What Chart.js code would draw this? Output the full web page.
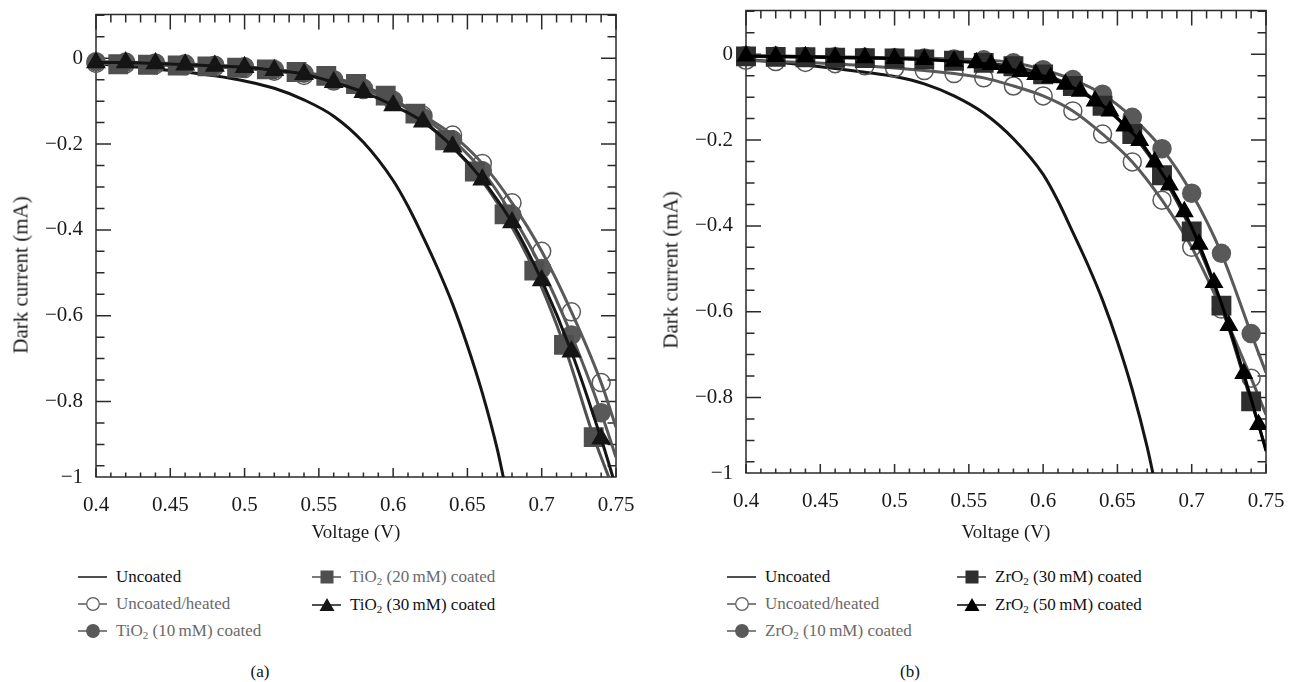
<!DOCTYPE html>
<html>
<head>
<meta charset="utf-8">
<script src="https://cdn.jsdelivr.net/npm/chart.js@4.4.1/dist/chart.umd.min.js"></script>
<style>
  html, body { margin: 0; padding: 0; background: #fff; }
  #page { position: relative; width: 1291px; height: 682px; overflow: hidden;
          font-family: "Liberation Serif", "Times New Roman", serif; color: #111; }
  canvas { position: absolute; }
  .leg { position: absolute; display: flex; align-items: center; height: 24px;
         margin-top: -12px; font-size: 17px; white-space: nowrap; }
  .leg svg { margin-right: 8px; flex: none; }
  .leg sub { font-size: 11px; vertical-align: -3px; line-height: 0; }
  .gray { color: #6a6a6a; }
  .cap { position: absolute; font-size: 17px; transform: translate(-50%, -50%); }
  .ytitle { position: absolute; font-size: 21px; line-height: 1; white-space: nowrap; color: #1a1a1a;
            transform: translate(-50%, -50%) rotate(-90deg); }
</style>
</head>
<body>
<div id="page">
  <canvas id="chartA" width="645" height="545" style="left:0;top:0"></canvas>
  <canvas id="chartB" width="641" height="549" style="left:650px;top:-4px"></canvas>
  <div class="ytitle" style="left:21px;top:275px">Dark current (mA)</div>
  <div class="ytitle" style="left:671px;top:270px">Dark current (mA)</div>

  <div class="leg" style="left:78px;top:577px" id="la0"></div>
  <div class="leg gray" style="left:78px;top:604px" id="la1"></div>
  <div class="leg gray" style="left:78px;top:631px" id="la2"></div>
  <div class="leg gray" style="left:312px;top:577px" id="la3"></div>
  <div class="leg" style="left:312px;top:605px" id="la4"></div>
  <div class="cap" style="left:260px;top:672px">(a)</div>

  <div class="leg" style="left:727px;top:577px" id="lb0"></div>
  <div class="leg gray" style="left:727px;top:604px" id="lb1"></div>
  <div class="leg gray" style="left:727px;top:631px" id="lb2"></div>
  <div class="leg" style="left:957px;top:577px" id="lb3"></div>
  <div class="leg" style="left:957px;top:605px" id="lb4"></div>
  <div class="cap" style="left:910px;top:672px">(b)</div>
</div>

<script>
// ---- data (voltage in V, dark current in mA) ----
// last point of each marker series is only the end of the fitted curve (no marker)
const voltStep = [0.40, 0.42, 0.44, 0.46, 0.48, 0.50, 0.52, 0.54, 0.56, 0.58,
                  0.60, 0.62, 0.64, 0.66, 0.68, 0.70, 0.72, 0.74, 0.75];
const voltUncoated = [0.40, 0.42, 0.44, 0.46, 0.48, 0.50, 0.52, 0.54, 0.56, 0.58,
                      0.60, 0.61, 0.62, 0.63, 0.64, 0.65, 0.66, 0.67, 0.675];
const voltSquaresA = [0.415, 0.435, 0.455, 0.475, 0.495, 0.515, 0.535, 0.555, 0.575,
                      0.595, 0.615, 0.635, 0.655, 0.675, 0.695, 0.715, 0.735, 0.75];
const voltTrianglesB = [0.40, 0.42, 0.44, 0.46, 0.48, 0.50, 0.52, 0.54,
                        0.555, 0.565, 0.575, 0.585, 0.595, 0.605, 0.615, 0.625, 0.635, 0.645,
                        0.655, 0.665, 0.675, 0.685, 0.695, 0.705, 0.715, 0.725, 0.735, 0.745, 0.75];

// panel (a)
const uncoatedA = [-0.013, -0.018, -0.025, -0.032, -0.041, -0.053, -0.070, -0.097, -0.135, -0.196,
                   -0.285, -0.345, -0.415, -0.490, -0.573, -0.670, -0.780, -0.910, -0.99];
const heatedA = [-0.012, -0.013, -0.015, -0.017, -0.020, -0.024, -0.030, -0.040, -0.053, -0.073,
                 -0.098, -0.133, -0.179, -0.245, -0.337, -0.450, -0.591, -0.756, -0.86];
const tio2_10 = [-0.008, -0.009, -0.011, -0.013, -0.016, -0.020, -0.026, -0.035, -0.050, -0.070,
                 -0.100, -0.138, -0.190, -0.262, -0.365, -0.490, -0.645, -0.826, -0.93];
const tio2_20 = [-0.014, -0.015, -0.017, -0.019, -0.022, -0.026, -0.032, -0.041, -0.060, -0.087,
                 -0.129, -0.191, -0.264, -0.364, -0.495, -0.668, -0.883, -1.02];
const tio2_30 = [-0.010, -0.010, -0.012, -0.015, -0.018, -0.021, -0.028, -0.037, -0.056, -0.079,
                 -0.110, -0.148, -0.206, -0.283, -0.383, -0.518, -0.684, -0.887, -1.0];

// panel (b)
const uncoatedB = [-0.012, -0.018, -0.025, -0.033, -0.042, -0.052, -0.069, -0.097, -0.137, -0.197,
                   -0.280, -0.342, -0.415, -0.490, -0.573, -0.670, -0.782, -0.915, -0.995];
const heatedB = [-0.014, -0.017, -0.019, -0.022, -0.027, -0.032, -0.038, -0.045, -0.055, -0.074,
                 -0.097, -0.132, -0.186, -0.251, -0.340, -0.450, -0.594, -0.755, -0.84];
const zro2_10 = [-0.003, -0.004, -0.005, -0.006, -0.007, -0.008, -0.009, -0.011, -0.013, -0.020,
                 -0.036, -0.059, -0.093, -0.147, -0.220, -0.324, -0.464, -0.651, -0.742];
const zro2_30 = [-0.005, -0.006, -0.007, -0.008, -0.009, -0.010, -0.012, -0.015, -0.020, -0.028,
                 -0.047, -0.074, -0.120, -0.186, -0.282, -0.413, -0.586, -0.809, -0.92];
const zro2_50 = [-0.004, -0.005, -0.006, -0.007, -0.008, -0.010, -0.012, -0.016,
                 -0.020, -0.024, -0.032, -0.040, -0.047, -0.055, -0.070, -0.086, -0.109, -0.132,
                 -0.167, -0.201, -0.251, -0.305, -0.367, -0.443, -0.532, -0.632, -0.744, -0.863, -0.925];

const xTickValues = [0.4, 0.45, 0.5, 0.55, 0.6, 0.65, 0.7, 0.75];
const yTickValues = [0, -0.2, -0.4, -0.6, -0.8];
const X_MIN = 0.4, X_MAX = 0.75;
const Y_MIN = -0.976, Y_MAX = 0.102;   // axis box as drawn in the figure; bottom edge carries the "−1" label

const FONT = '"Liberation Serif", "Times New Roman", serif';
const BLACK = '#151515', GRAY = '#595959', SQ_A = '#4f4f4f', SQ_B = '#2e2e2e';

function pts(xs, ys) {
    return ys.map((v, i) => ({ x: xs[i], y: v }));
}

function series(xs, ys, opts) {
    const last = ys.length - 1;
    return Object.assign({
        data: pts(xs, ys),
        borderWidth: 3,
        pointBorderWidth: 1.5,
        cubicInterpolationMode: 'monotone',
        clip: { left: 14, top: 14, right: 0, bottom: 0 },
        pointRadius: ctx => ctx.dataIndex === last ? 0 : opts.r
    }, opts);
}

// frame with inward ticks like the original plot
const inwardTicks = {
    id: 'inwardTicks',
    beforeDatasetsDraw(chart) {
        const { ctx, chartArea: a, scales: { x, y } } = chart;
        ctx.save();
        ctx.strokeStyle = '#2a2a2a';
        ctx.lineWidth = 1.5;
        ctx.strokeRect(a.left, a.top, a.right - a.left, a.bottom - a.top);
        ctx.beginPath();
        for (let k = 0; k <= 35; k++) {
            const px = x.getPixelForValue(X_MIN + k * 0.01);
            const major = k % 5 === 0;
            ctx.moveTo(px, a.bottom); ctx.lineTo(px, a.bottom - (major ? 9 : 4.5));
            ctx.moveTo(px, a.top); ctx.lineTo(px, a.top + (major ? 15 : 8));
        }
        for (let k = 0; k < 22; k++) {
            const v = 0.1 - k * 0.05;
            if (v < y.min) break;
            const py = y.getPixelForValue(v);
            const len = (k - 2) % 4 === 0 ? 15 : 8.5;
            ctx.moveTo(a.left, py); ctx.lineTo(a.left + len, py);
            ctx.moveTo(a.right, py); ctx.lineTo(a.right - len, py);
        }
        ctx.stroke();
        ctx.restore();
    }
};

function makeChart(id, datasets, rightPad, axisH) {
    return new Chart(document.getElementById(id), {
        type: 'line',
        data: { datasets },
        plugins: [inwardTicks],
        options: {
            responsive: false,
            animation: false,
            events: [],
            layout: { padding: { left: 0, top: 10, right: rightPad, bottom: 0 } },
            plugins: { legend: { display: false }, tooltip: { enabled: false } },
            scales: {
                x: {
                    type: 'linear', min: X_MIN, max: X_MAX,
                    afterBuildTicks: s => { s.ticks = xTickValues.map(v => ({ value: v })); },
                    afterFit: s => { s.height = axisH; s.paddingLeft = 0; s.paddingRight = 0; },
                    grid: { display: false, drawTicks: false },
                    border: { display: false },
                    ticks: { padding: 16, color: '#1a1a1a', font: { family: FONT, size: 21 },
                             maxRotation: 0, callback: v => String(v) },
                    title: { display: true, text: 'Voltage (V)', color: '#1a1a1a',
                             font: { family: FONT, size: 19 }, padding: { top: 0, bottom: 1 } }
                },
                y: {
                    type: 'linear', min: Y_MIN, max: Y_MAX,
                    afterBuildTicks: s => { s.ticks = yTickValues.concat([Y_MIN]).map(v => ({ value: v })); },
                    afterFit: s => { s.width = 96; s.paddingTop = 0; s.paddingBottom = 0; },
                    grid: { display: false, drawTicks: false },
                    border: { display: false },
                    ticks: { padding: 13, color: '#1a1a1a', font: { family: FONT, size: 21 },
                             callback: v => v === Y_MIN ? '\u22121' : (v === 0 ? '0' : '\u2212' + Math.abs(v)) },
                    title: { display: false }
                }
            }
        }
    });
}

function drawCharts() {
    // dataset 0 ends up on top
    makeChart('chartA', [
        series(voltStep, tio2_30, { borderColor: BLACK, pointStyle: 'triangle', r: 10,
                                    pointBackgroundColor: BLACK, pointBorderColor: BLACK }),
        series(voltSquaresA, tio2_20, { borderColor: SQ_A, pointStyle: 'rect', r: 13,
                                        pointBackgroundColor: SQ_A, pointBorderColor: SQ_A }),
        series(voltStep, tio2_10, { borderColor: GRAY, pointStyle: 'circle', r: 9,
                                    pointBackgroundColor: GRAY, pointBorderColor: GRAY }),
        series(voltStep, heatedA, { borderColor: GRAY, pointStyle: 'circle', r: 9,
                                    pointBackgroundColor: 'rgba(255,255,255,0)', pointBorderColor: GRAY }),
        series(voltUncoated, uncoatedA, { borderColor: BLACK, r: 0, borderWidth: 3 })
    ], 29, 68);

    makeChart('chartB', [
        series(voltTrianglesB, zro2_50, { borderColor: '#000', pointStyle: 'triangle', r: 9.5,
                                          pointBackgroundColor: '#000', pointBorderColor: '#000' }),
        series(voltStep, zro2_30, { borderColor: SQ_B, pointStyle: 'rect', r: 13,
                                    pointBackgroundColor: SQ_B, pointBorderColor: SQ_B }),
        series(voltStep, zro2_10, { borderColor: GRAY, pointStyle: 'circle', r: 9,
                                    pointBackgroundColor: GRAY, pointBorderColor: GRAY }),
        series(voltStep, heatedB, { borderColor: GRAY, pointStyle: 'circle', r: 9,
                                    pointBackgroundColor: 'rgba(255,255,255,0)', pointBorderColor: GRAY }),
        series(voltUncoated, uncoatedB, { borderColor: BLACK, r: 0, borderWidth: 3 })
    ], 25, 72);
}

// ---- legends (html, same layout as the figure) ----
function sym(color, shape, fill) {
    let m = '';
    if (shape === 'circle') m = `<circle cx="15" cy="9" r="6.3" fill="${fill}" stroke="${color}" stroke-width="1.2"/>`;
    if (shape === 'rect') m = `<rect x="8.5" y="2.5" width="13" height="13" fill="${color}"/>`;
    if (shape === 'triangle') m = `<polygon points="15,2 22.5,15 7.5,15" fill="${color}"/>`;
    return `<svg width="30" height="18"><line x1="0" y1="9" x2="29" y2="9" stroke="${color}" stroke-width="1.5"/>${m}</svg>`;
}
const legendA = [
    [sym(BLACK, 'none'), 'Uncoated'],
    [sym(GRAY, 'circle', '#fff'), 'Uncoated/heated'],
    [sym(GRAY, 'circle', GRAY), 'TiO<sub>2</sub> (10&thinsp;mM) coated'],
    [sym(SQ_A, 'rect'), 'TiO<sub>2</sub> (20&thinsp;mM) coated'],
    [sym(BLACK, 'triangle'), 'TiO<sub>2</sub> (30&thinsp;mM) coated']
];
const legendB = [
    [sym(BLACK, 'none'), 'Uncoated'],
    [sym(GRAY, 'circle', '#fff'), 'Uncoated/heated'],
    [sym(GRAY, 'circle', GRAY), 'ZrO<sub>2</sub> (10&thinsp;mM) coated'],
    [sym(SQ_B, 'rect'), 'ZrO<sub>2</sub> (30&thinsp;mM) coated'],
    [sym('#000', 'triangle'), 'ZrO<sub>2</sub> (50&thinsp;mM) coated']
];
legendA.forEach((it, i) => { document.getElementById('la' + i).innerHTML = it[0] + '<span>' + it[1] + '</span>'; });
legendB.forEach((it, i) => { document.getElementById('lb' + i).innerHTML = it[0] + '<span>' + it[1] + '</span>'; });

// make sure the serif face is ready before the canvases draw text
document.fonts.load('21px "Liberation Serif"').then(drawCharts, drawCharts);
</script>
</body>
</html>
